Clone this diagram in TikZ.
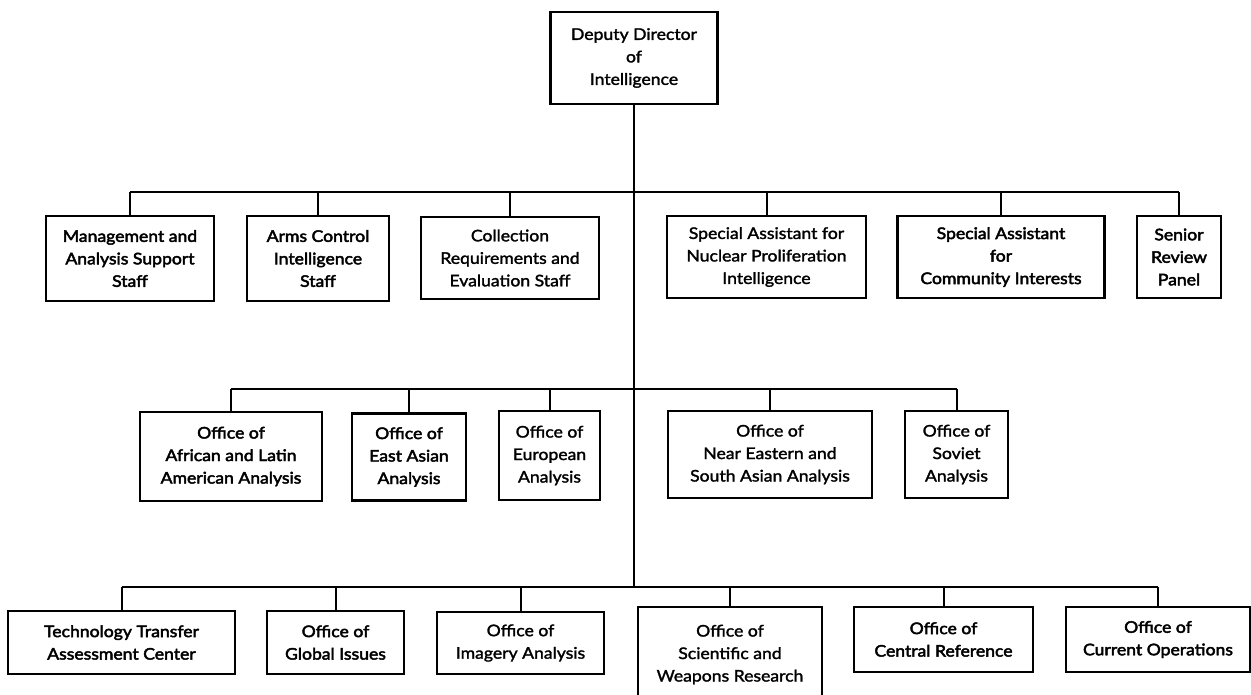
\documentclass[tikz,border=0pt]{standalone}
\usepackage{fontspec}
\setmainfont{Lato}[FakeStretch=1.1]
\newfontfamily\midweight{Lato}[FakeStretch=1.1, FakeBold=1.8]
\newfontfamily\heavyweight{Lato}[FakeStretch=1.1, FakeBold=2.8]
\begin{document}
\begin{tikzpicture}[x=1pt,y=-1pt,
  box/.style={draw, line width=2.8pt, fill=white, align=center, inner sep=0pt,
    font=\fontsize{16}{22.5}\selectfont\midweight},
  heavy/.style={font=\fontsize{16}{22.5}\selectfont\heavyweight},
  link/.style={line width=2pt}]
\useasboundingbox (0,0) rectangle (1251,694);

% top
\node[box, minimum width=167, minimum height=92] (dd) at (634,58) {Deputy Director\\of\\Intelligence};

% first tier: staffs and assistants
\node[box, heavy, minimum width=168, minimum height=85] (mgmt) at (130,258.5) {Management and\\Analysis Support\\Staff};
\node[box, heavy, minimum width=142, minimum height=85] (arms) at (318,258.5) {Arms Control\\Intelligence\\Staff};
\node[box, minimum width=178, minimum height=82] (coll) at (510,258) {Collection\\Requirements and\\Evaluation Staff};
\node[box, minimum width=199, minimum height=82] (nucl) at (766.5,257) {Special Assistant for\\Nuclear Proliferation\\Intelligence};
\node[box, heavy, minimum width=207, minimum height=82] (comm) at (1001,257) {Special Assistant\\for\\Community Interests};
\node[box, heavy, minimum width=84, minimum height=82] (senior) at (1179,257) {Senior\\Review\\Panel};

% second tier: regional offices
\node[box, heavy, minimum width=182, minimum height=89] (afr) at (231,456.5) {Office of\\African and Latin\\American Analysis};
\node[box, heavy, minimum width=114, minimum height=87] (east) at (409,457) {Office of\\East Asian\\Analysis};
\node[box, minimum width=101, minimum height=89] (eur) at (549.5,455.5) {Office of\\European\\Analysis};
\node[box, minimum width=204, minimum height=87] (near) at (770,454.5) {Office of\\Near Eastern and\\South Asian Analysis};
\node[box, minimum width=103, minimum height=87] (sov) at (956.5,454.5) {Office of\\Soviet\\Analysis};

% third tier: functional offices
\node[box, heavy, minimum width=227, minimum height=63] (tech) at (121.5,642.5) {Technology Transfer\\Assessment Center};
\node[box, heavy, minimum width=137, minimum height=63] (glob) at (335.5,642.5) {Office of\\Global Issues};
\node[box, minimum width=167, minimum height=62] (imag) at (520.5,643) {Office of\\Imagery Analysis};
\node[box, minimum width=184, minimum height=95] (sci) at (730,654.5) {Office of\\Scientific and\\Weapons Research};
\node[box, heavy, minimum width=179, minimum height=65] (cent) at (943.5,639.5) {Office of\\Central Reference};
\node[box, heavy, minimum width=184, minimum height=65] (curr) at (1158,639.5) {Office of\\Current Operations};

% distribution bars
\coordinate (b1) at (634,192);
\coordinate (b2) at (634,389);
\coordinate (b3) at (634,587);

\draw[link] (dd.south) -- (dd.south |- b3);
\draw[link] (mgmt.north |- b1) -- (senior.north |- b1);
\draw[link] (afr.north |- b2) -- (sov.north |- b2);
\draw[link] (tech.north |- b3) -- (curr.north |- b3);

\foreach \n in {mgmt,arms,coll,nucl,comm,senior}
  \draw[link] (\n.north |- b1) -- (\n.north);
\foreach \n in {afr,east,eur,near,sov}
  \draw[link] (\n.north |- b2) -- (\n.north);
\foreach \n in {tech,glob,imag,sci,cent,curr}
  \draw[link] (\n.north |- b3) -- (\n.north);
\end{tikzpicture}
\end{document}
